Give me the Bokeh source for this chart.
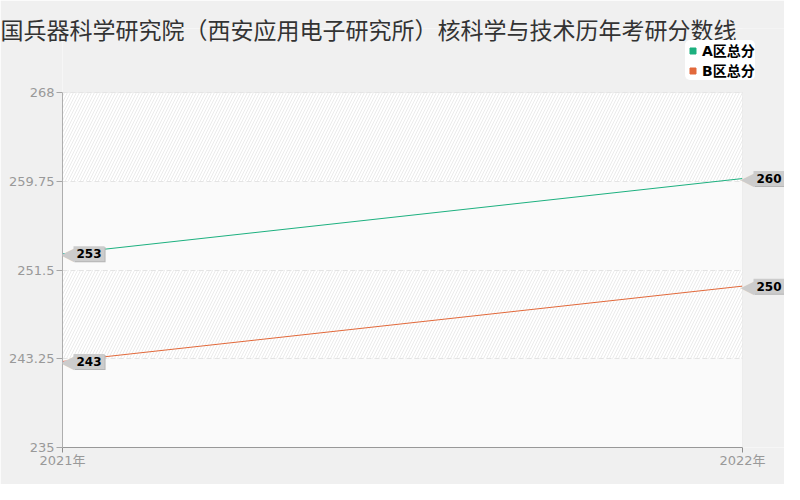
from bokeh.plotting import figure
from bokeh.models import Range1d, FixedTicker, Label, Legend, LegendItem, BoxAnnotation
from bokeh.embed import file_html
from bokeh.resources import INLINE

title_text = "中国兵器科学研究院（西安应用电子研究所）核科学与技术历年考研分数线"
years = [2021, 2022]
year_labels = ["2021年", "2022年"]
series_names = ["A区总分", "B区总分"]
a_scores = [253, 260]
b_scores = [243, 250]
y_ticks = [235, 243.25, 251.5, 259.75, 268]
y_tick_labels = ["235", "243.25", "251.5", "259.75", "268"]
colors = ["#1cb07f", "#e2693b"]

CJK = "Noto Sans CJK SC"
BG = "#f0f0f0"

# layout (canvas pixels)
W, H = 784, 484
AREA_L, AREA_R, AREA_T, AREA_B = 62, 742, 92, 447
FRAME_T = 28
px_x = (AREA_R - AREA_L) / (years[-1] - years[0])
px_y = (AREA_B - AREA_T) / (y_ticks[-1] - y_ticks[0])
x_end = years[-1] + (W - AREA_R) / px_x
y_end = y_ticks[-1] + (AREA_T - FRAME_T) / px_y

p = figure(width=W, height=H, output_backend="svg", toolbar_location=None,
           x_range=Range1d(years[0], x_end), y_range=Range1d(y_ticks[0], y_end),
           min_border_left=AREA_L, min_border_right=0, min_border_top=FRAME_T,
           min_border_bottom=H - AREA_B)

p.border_fill_color = BG
p.background_fill_color = "#fafafa"
p.outline_line_color = None

# title
p.title.text = title_text
p.title.text_font = CJK
p.title.text_font_size = "23px"
p.title.text_font_style = "normal"
p.title.text_color = "#333333"
p.title.align = "left"
p.title.offset = -85
p.title.standoff = -34

# x axis
p.xaxis.ticker = FixedTicker(ticks=years)
p.xaxis.bounds = (years[0], years[-1])
p.xaxis.major_label_overrides = {y: l for y, l in zip(years, year_labels)}
p.xaxis.minor_tick_line_color = None
p.xaxis.axis_line_color = "#8c8c8c"
p.xaxis.major_tick_line_color = "#8c8c8c"
p.xaxis.major_tick_in = 0
p.xaxis.major_tick_out = 5
p.xaxis.major_label_standoff = 0
p.xaxis.major_label_text_color = "#999999"
p.xaxis.major_label_text_font = "DejaVu Sans, Noto Sans CJK SC"
p.xaxis.major_label_text_font_size = "13px"

# y axis
p.yaxis.ticker = FixedTicker(ticks=y_ticks)
p.yaxis.bounds = (y_ticks[0], y_ticks[-1])
p.yaxis.major_label_overrides = {t: l for t, l in zip(y_ticks, y_tick_labels)}
p.yaxis.minor_tick_line_color = None
p.yaxis.axis_line_color = "#a6a6a6"
p.yaxis.major_tick_line_color = "#a6a6a6"
p.yaxis.major_tick_in = 0
p.yaxis.major_tick_out = 6
p.yaxis.major_label_standoff = 2
p.yaxis.major_label_text_color = "#999999"
p.yaxis.major_label_text_font = "DejaVu Sans"
p.yaxis.major_label_text_font_size = "13px"

# grids
p.xgrid.visible = False
p.ygrid.grid_line_color = "#e4e4e4"
p.ygrid.grid_line_dash = "5 3"
p.ygrid.band_fill_color = "#ffffff"
p.ygrid.band_fill_alpha = 1
p.ygrid.band_hatch_pattern = "/"
p.ygrid.band_hatch_color = "#ebebeb"
p.ygrid.band_hatch_scale = 6
p.ygrid.band_hatch_weight = 1

# lines
items = []
for name, ys, c in zip(series_names, [a_scores, b_scores], colors):
    p.line(years, ys, line_color=c, line_width=1)
    r = p.scatter(years, ys, marker="square", size=0, fill_color=c, line_color=c)
    items.append(LegendItem(label=name, renderers=[r]))

# masks outside the plotting area, and the area's outline
p.add_layout(BoxAnnotation(left=years[-1], fill_color=BG, fill_alpha=1, line_color=None))
p.add_layout(BoxAnnotation(bottom=y_ticks[-1], fill_color=BG, fill_alpha=1, line_color=None))
p.add_layout(BoxAnnotation(left=years[0], right=years[-1], bottom=y_ticks[0], top=y_ticks[-1],
                           fill_alpha=0, line_color="#dcdcdc", line_width=1))

# value callouts (with a faint shadow)
for ys in (a_scores, b_scores):
    for x, y in zip(years, ys):
        p.add_layout(Label(x=x, y=y, x_offset=12, y_offset=-1, text=str(y), text_baseline="middle",
                           text_align="left", text_font="DejaVu Sans",
                           text_font_size="12px", text_font_style="bold", text_color="#b5b5b5",
                           background_fill_color="#b5b5b5", padding=3))
        p.add_layout(Label(x=x, y=y, x_offset=-2, text="◀", text_baseline="middle",
                           text_align="left", text_font="DejaVu Sans",
                           text_font_size="18px", text_color="#cccccc"))
        p.add_layout(Label(x=x, y=y, x_offset=11, text=str(y), text_baseline="middle",
                           text_align="left", text_font="DejaVu Sans",
                           text_font_size="12px", text_font_style="bold", text_color="black",
                           background_fill_color="#cccccc", padding=3))

legend = Legend(items=items, location=(623, 367), margin=0,
                background_fill_color="white", background_fill_alpha=1,
                border_line_color=None, border_radius=5, padding=3, spacing=0,
                label_standoff=2, glyph_width=15, glyph_height=15, label_height=15,
                label_text_font="DejaVu Sans, Noto Sans CJK SC", label_text_font_size="14px",
                label_text_font_style="bold", label_text_color="black")
p.add_layout(legend)

open("out.html", "w").write(file_html(p, INLINE))
